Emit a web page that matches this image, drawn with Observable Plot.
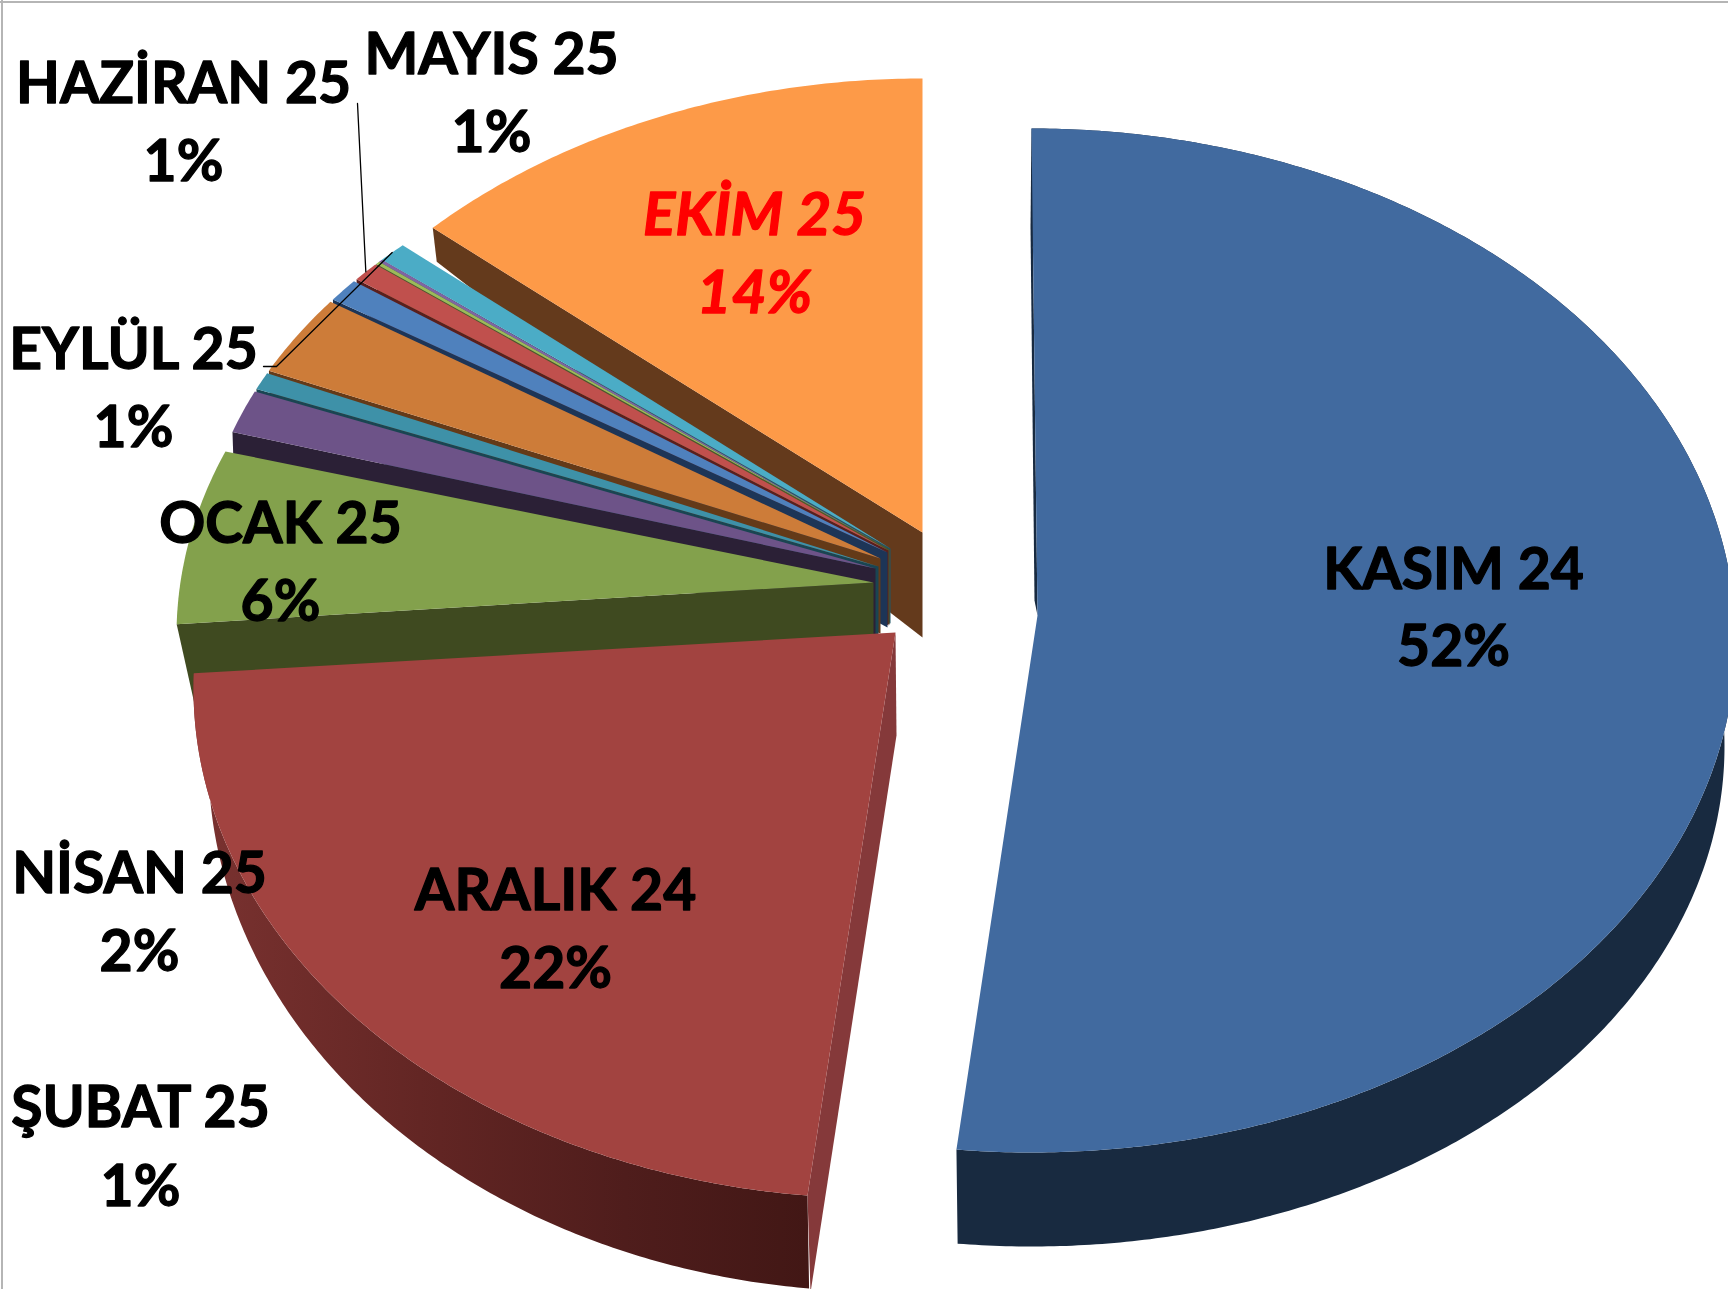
<!DOCTYPE html>
<html><head><meta charset="utf-8">
<script src="https://cdn.jsdelivr.net/npm/d3@7"></script>
<script src="https://cdn.jsdelivr.net/npm/@observablehq/plot@0.6"></script>
<style>html,body{margin:0;padding:0;background:#fff;overflow:hidden}svg{display:block}</style>
</head><body><div id="chart"></div>
<script>
const months = ["KASIM 24","ARALIK 24","OCAK 25","ŞUBAT 25","MART 25","NİSAN 25","MAYIS 25","HAZİRAN 25","TEMMUZ 25","AĞUSTOS 25","EYLÜL 25","EKİM 25"];
// angular share of each slice as drawn in the picture
const values = [51.7,22.2,6.0,1.6,0.7,2.9,0.9,0.7,0.1,0.1,0.7,12.4];
const percentLabels = ["52%","22%","6%","1%",null,"2%","1%","1%",null,null,"1%","14%"];
const topColors = ["#416a9f","#a24340","#83a14c","#6d5388","#3e91a8","#cd7c39","#4f81bd","#c0504d","#9bbb59","#8064a2","#4bacc6","#fd9a48"];
const wallColors = ["#182a40","url(#wallRed)","#3f4a20","#2b2036","#1a4552","#643a18","#1d3557","#5a1f1d","#4a5a2a","#3a2a4a","#1f5766","#643a1c"];
const cutColors = ["#182a40","#85393a","#3f4a20","#2b2036","#1a4552","#643a18","#1d3557","#5a1f1d","#4a5a2a","#3a2a4a","#1f5766","#643a1c"];

// exploded 3D projection of each slice (tip, ellipse centre, radii, wall drops)
const small = {c:[880,570], r:[680,457], dOuter:[1,30], dTip:[0,75], gap:0.35};
const projection = [
  {tip:[1037,615], c:[1031,640], r:[704,512], base:{c:[1031,746], r:[693,500]}, dOuter:[-1,98], dTip:[-3,-15]},
  {tip:[895,632],  c:[880,688],  r:[687,510], base:{c:[880,761], r:[672,530]}, sweep:[186.1,271.7], dOuter:[3,97], dTip:[1,103]},
  {tip:[873,582],  c:[873,635],  r:[697,500], sweep:[271.3,291.6], dOuter:[19,85], dTip:[0,100]},
  {tip:[875,568],  ...small},
  {tip:[878,566],  ...small},
  {tip:[880,558],  ...small},
  {tip:[887,552],  ...small},
  {tip:[888,550],  ...small, gap:0.1},
  {tip:[889,549],  ...small, gap:0},
  {tip:[889,549],  ...small, gap:0},
  {tip:[890,548],  ...small, gap:0},
  {tip:[922,532],  c:[922,601],  r:[700,523], sweep:[315.6,360], dOuter:[4,34], dTip:[0,105]}
];

const labelNames = ["KASIM 24","ARALIK 24","OCAK 25","EYLÜL 25","HAZİRAN 25","MAYIS 25","EKİM 25","NİSAN 25","ŞUBAT 25"];
const labelX = [1453,555,280,133,183,491,754,139,140];
const labelY1 = [570,891,524,350,84,55,215,874,1108];
const labelY2 = [647,969,602,428,162,133,293,952,1187];

const rim = (q,t) => { const a=t*Math.PI/180; return [q.c[0]+q.r[0]*Math.sin(a), q.c[1]-q.r[1]*Math.cos(a)]; };
const arc = (q,t0,t1) => { const n=Math.max(2,Math.ceil((t1-t0)*2)); return d3.range(n+1).map(i=>rim(q,t0+(t1-t0)*i/n)); };

const total = d3.sum(values);
const cum = d3.cumsum(values);
const angles = values.map((v,i)=>{
  const a=(i?cum[i-1]:0)/total*360, b=cum[i]/total*360, p=projection[i];
  return p.sweep ? {t0:p.sweep[0],t1:p.sweep[1]} : {t0:a,t1:b-(p.gap||0)};
});

const polys = [];
const push = (id,fill,pts) => pts.forEach(([x,y])=>polys.push({id,fill,x,y}));
for (let i=months.length-1;i>=0;i--){
  const p=projection[i], {t0,t1}=angles[i], pts=arc(p,t0,t1);
  if (p.base) push(months[i]+" rim",wallColors[i],[...pts,...arc(p.base,t0,t1).reverse()]);
  const o=rim(p,t0);
  push(months[i]+" cut",cutColors[i],[p.tip,o,[o[0]+p.dOuter[0],o[1]+p.dOuter[1]],[p.tip[0]+p.dTip[0],p.tip[1]+p.dTip[1]]]);
  push(months[i]+" top",topColors[i],[p.tip,...pts]);
}

const midRim = name => { const i=months.indexOf(name); return rim(projection[i],(angles[i].t0+angles[i].t1)/2); };
const eylulEnd = midRim("EYLÜL 25"), haziranEnd = midRim("HAZİRAN 25");
const leaders = [
  {id:"e",x:263,y:366},{id:"e",x:276,y:366},{id:"e",x:eylulEnd[0],y:eylulEnd[1]},
  {id:"h",x:357,y:103},{id:"h",x:haziranEnd[0],y:haziranEnd[1]}
];

const texts = [];
labelNames.forEach((n,i)=>{
  const pct = percentLabels[months.indexOf(n)];
  texts.push({t:n,x:labelX[i],y:labelY1[i]},{t:pct,x:labelX[i],y:labelY2[i]});
});
const isEkim = d => d.x===754;

const defs = () => {
  const s=d3.create("svg:g");
  const g=s.append("defs").append("linearGradient").attr("id","wallRed").attr("x1",0).attr("x2",1).attr("y1",0).attr("y2",0);
  g.append("stop").attr("offset","0").attr("stop-color","#7a3230");
  g.append("stop").attr("offset","0.4").attr("stop-color","#612523");
  g.append("stop").attr("offset","0.7").attr("stop-color","#4f1d1c");
  g.append("stop").attr("offset","1").attr("stop-color","#421715");
  return s.node();
};

const textOpts = {x:"x",y:"y",text:"t",fontFamily:"Lato",fontWeight:700,fontSize:57,textAnchor:"middle",lineAnchor:"middle",strokeWidth:1.3};
const chart = Plot.plot({
  width:1728,height:1289,margin:0,
  x:{domain:[0,1728],range:[0,1728],axis:null},
  y:{domain:[0,1289],range:[0,1289],axis:null},
  color:{type:"identity"},
  style:{background:"#fff",overflow:"hidden"},
  marks:[
    defs,
    Plot.ruleY([1.5],{stroke:"#b5b5b5",strokeWidth:2}),
    Plot.ruleX([1.5],{stroke:"#b5b5b5",strokeWidth:2}),
    Plot.line(polys,{x:"x",y:"y",z:"id",fill:"fill",stroke:null,curve:"linear-closed"}),
    Plot.line(leaders,{x:"x",y:"y",z:"id",stroke:"#000",strokeWidth:1.3}),
    Plot.text(texts.filter(d=>!isEkim(d)),{...textOpts,fill:"#000",stroke:"#000"}),
    Plot.text(texts.filter(isEkim),{...textOpts,fontSize:60,fill:"#ff0000",stroke:"#ff0000",fontStyle:"italic"})
  ]
});
document.getElementById("chart").append(chart);
</script></body></html>
